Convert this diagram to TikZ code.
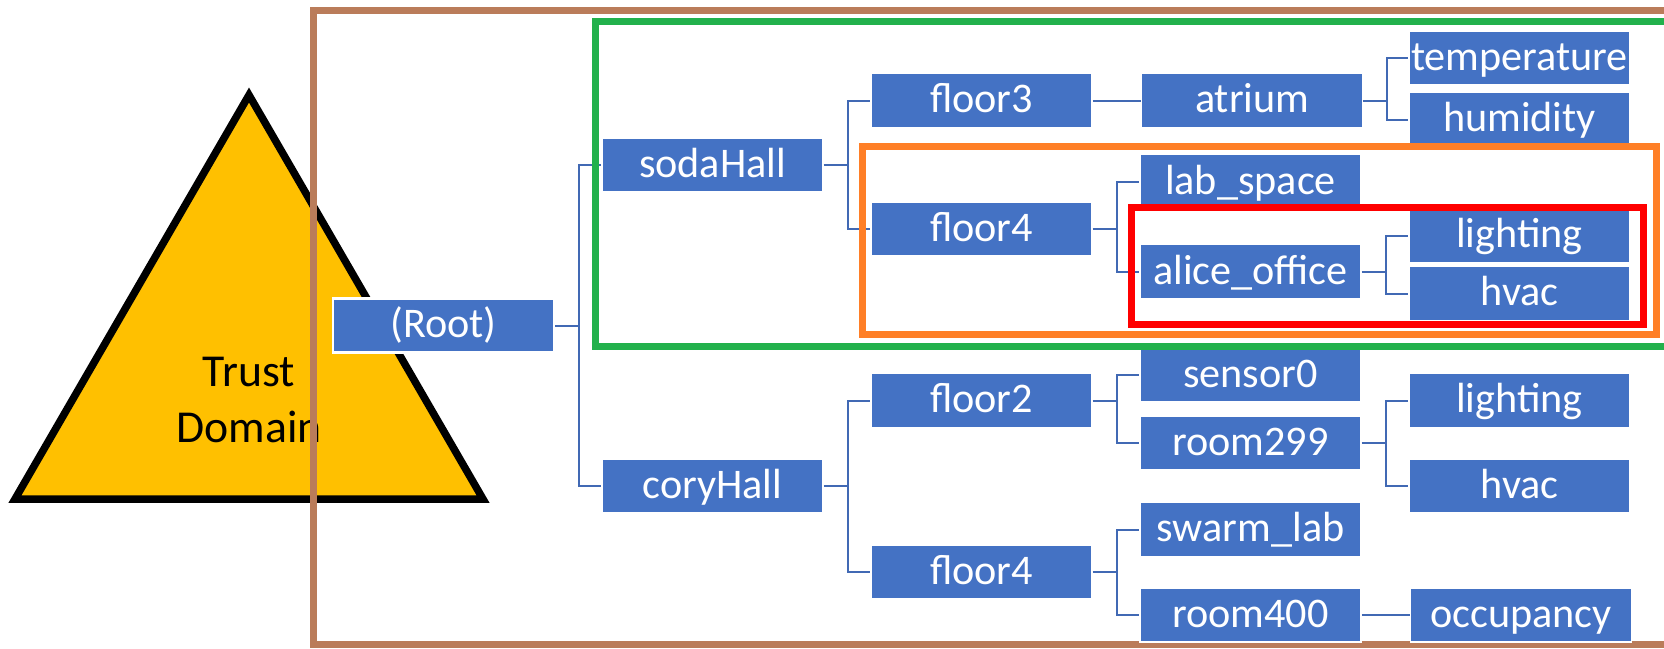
\documentclass[tikz,border=0pt]{standalone}
\usepackage{fontspec}
\setmainfont{Carlito}
\usetikzlibrary{positioning}
\definecolor{nodeblue}{RGB}{68,114,196}
\definecolor{linkblue}{RGB}{65,105,180}
\definecolor{domainyellow}{RGB}{255,192,0}
\definecolor{zonebrown}{RGB}{186,124,90}
\definecolor{zonegreen}{RGB}{34,177,76}
\definecolor{zoneorange}{RGB}{255,127,39}
\definecolor{zonered}{RGB}{255,0,0}

\begin{document}
\begin{tikzpicture}[
    x=0.01cm, y=-0.01cm,
    tbox/.style={fill=nodeblue, draw=white, line width=0.15mm, minimum width=2.21cm, minimum height=0.54cm, inner sep=0pt, text height=9pt, text depth=2pt, text=white, font=\fontsize{12}{14}\selectfont},
    link/.style={draw=linkblue, line width=0.2mm},
    zonebox/.style={draw=#1, line width=0.7mm}
]
    \useasboundingbox (0,0) rectangle (1664,648);

    % Trust domain
    \draw[fill=domainyellow, line width=0.75mm] (249,95) -- (483,499) -- (15,499) -- cycle;
    \node[font=\fontsize{13}{16}\selectfont, align=center] (trust) at (249,400) {Trust\\Domain};
    \draw[zonebrown, line width=0.65mm] (313.5,10.5) rectangle (1700,644.5);

    % Root and halls
    \node[tbox, line width=0.25mm] (root) at (443.5,325.5) {(Root)};
    \node[tbox] (soda) at (712.5,165) {sodaHall};
    \node[tbox] (cory) at (712.5,486) {coryHall};

    % Floors
    \node[tbox] (floor3) at (981.5,100.5) {floor3};
    \node[tbox] (sfloor4) at (981.5,229) {floor4};
    \node[tbox] (floor2) at (981.5,400.5) {floor2};
    \node[tbox] (cfloor4) at (981.5,572) {floor4};

    % Rooms
    \node[tbox, right=0.48cm of floor3] (atrium) {atrium};
    \node[tbox] (labspace) at (1250.5,181.7) {lab\_space};
    \node[tbox] (alice) at (1250.5,271.7) {alice\_office};
    \node[tbox] (sensor) at (1250.5,375) {sensor0};
    \node[tbox] (room299) at (1250.5,443) {room299};
    \node[tbox] (swarm) at (1250.5,529.5) {swarm\_lab};
    \node[tbox] (room400) at (1250.5,615) {room400};

    % Devices
    \node[tbox] (temp) at (1519.5,58) {temperature};
    \node[tbox] (humid) at (1519.5,119.5) {humidity};
    \node[tbox] (alight) at (1519.5,235.5) {lighting};
    \node[tbox] (ahvac) at (1519.5,293.5) {hvac};
    \node[tbox] (clight) at (1519.5,400.5) {lighting};
    \node[tbox] (chvac) at (1519.5,486) {hvac};
    \node[tbox, right=0.48cm of room400] (occup) {occupancy};

    \draw[link] (root.east) -- ++(24,0) |- (soda.west);
    \draw[link] (root.east) -- ++(24,0) |- (cory.west);
    \draw[link] (soda.east) -- ++(24,0) |- (floor3.west);
    \draw[link] (soda.east) -- ++(24,0) |- (sfloor4.west);
    \draw[link] (cory.east) -- ++(24,0) |- (floor2.west);
    \draw[link] (cory.east) -- ++(24,0) |- (cfloor4.west);
    \draw[link] (floor3) -- (atrium);
    \draw[link] (sfloor4.east) -- ++(24,0) |- (labspace.west);
    \draw[link] (sfloor4.east) -- ++(24,0) |- (alice.west);
    \draw[link] (floor2.east) -- ++(24,0) |- (sensor.west);
    \draw[link] (floor2.east) -- ++(24,0) |- (room299.west);
    \draw[link] (cfloor4.east) -- ++(24,0) |- (swarm.west);
    \draw[link] (cfloor4.east) -- ++(24,0) |- (room400.west);
    \draw[link] (atrium.east) -- ++(24,0) |- (temp.west);
    \draw[link] (atrium.east) -- ++(24,0) |- (humid.west);
    \draw[link] (alice.east) -- ++(24,0) |- (alight.west);
    \draw[link] (alice.east) -- ++(24,0) |- (ahvac.west);
    \draw[link] (room299.east) -- ++(24,0) |- (clight.west);
    \draw[link] (room299.east) -- ++(24,0) |- (chvac.west);
    \draw[link] (room400) -- (occup);

    % Access scopes
    \draw[zonebox=zonegreen] (595,21.7) rectangle (1700,346);
    \draw[zonebox=zoneorange] (862.5,146) rectangle (1656,334.5);
    \draw[zonebox=zonered] (1131.7,207) rectangle (1643.5,324.5);
\end{tikzpicture}
\end{document}
